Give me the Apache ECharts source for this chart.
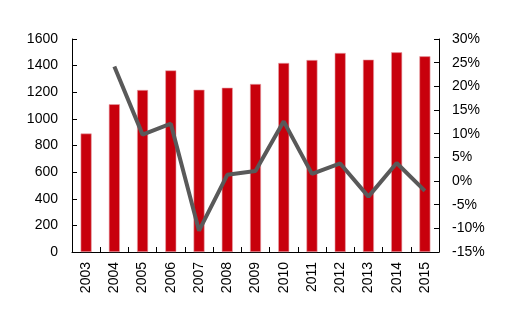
<!DOCTYPE html>
<html>
<head>
<meta charset="utf-8">
<script src="https://cdn.jsdelivr.net/npm/echarts@6/dist/echarts.min.js"></script>
<style>
  html, body { margin: 0; padding: 0; background: #fff; }
  #chart { width: 519px; height: 322px; }
</style>
</head>
<body>
<div id="chart"></div>
<script>
// Yearly volume (bars, left axis) and year-on-year growth (line, right axis)
const years = ['2003', '2004', '2005', '2006', '2007', '2008', '2009', '2010', '2011', '2012', '2013', '2014', '2015'];
const volume = [890, 1110, 1217, 1364, 1219, 1234, 1262, 1420, 1442, 1495, 1445, 1500, 1470];
const growth = [null, 24.2, 9.8, 12.1, -10.5, 1.3, 2.1, 12.6, 1.5, 3.7, -3.3, 3.8, -2.1];

const font = 'Liberation Sans, Arial, sans-serif';
const axisLine = { show: true, lineStyle: { color: '#000', width: 1 } };

const chart = echarts.init(document.getElementById('chart'));
chart.setOption({
  animation: false,
  backgroundColor: '#fff',
  grid: { left: 72, right: 80, top: 39, bottom: 70, containLabel: false },
  xAxis: {
    type: 'category',
    data: years,
    boundaryGap: true,
    axisLine: axisLine,
    axisTick: { show: true, inside: true, length: 5, lineStyle: { color: '#000' } },
    axisLabel: { rotate: 90, margin: 10, color: '#000', fontSize: 14, fontFamily: font }
  },
  yAxis: [
    {
      type: 'value', min: 0, max: 1600, interval: 200,
      axisLine: axisLine,
      axisTick: { show: true, inside: true, length: 5, lineStyle: { color: '#000' } },
      splitLine: { show: false },
      axisLabel: { margin: 14, color: '#000', fontSize: 14, fontFamily: font, formatter: (v) => String(v) }
    },
    {
      type: 'value', min: -15, max: 30, interval: 5, position: 'right',
      axisLine: axisLine,
      axisTick: { show: true, inside: true, length: 5, lineStyle: { color: '#000' } },
      splitLine: { show: false },
      axisLabel: { margin: 13, color: '#000', fontSize: 14, fontFamily: font, formatter: '{value}%' }
    }
  ],
  series: [
    {
      type: 'bar',
      data: volume,
      barWidth: 11,
      itemStyle: { color: '#c8000c', borderColor: '#e6a3aa', borderWidth: 0.6 }
    },
    {
      type: 'line',
      yAxisIndex: 1,
      data: growth,
      showSymbol: false,
      symbol: 'none',
      lineStyle: { color: '#595959', width: 4 },
      z: 3
    }
  ]
});
</script>
</body>
</html>
